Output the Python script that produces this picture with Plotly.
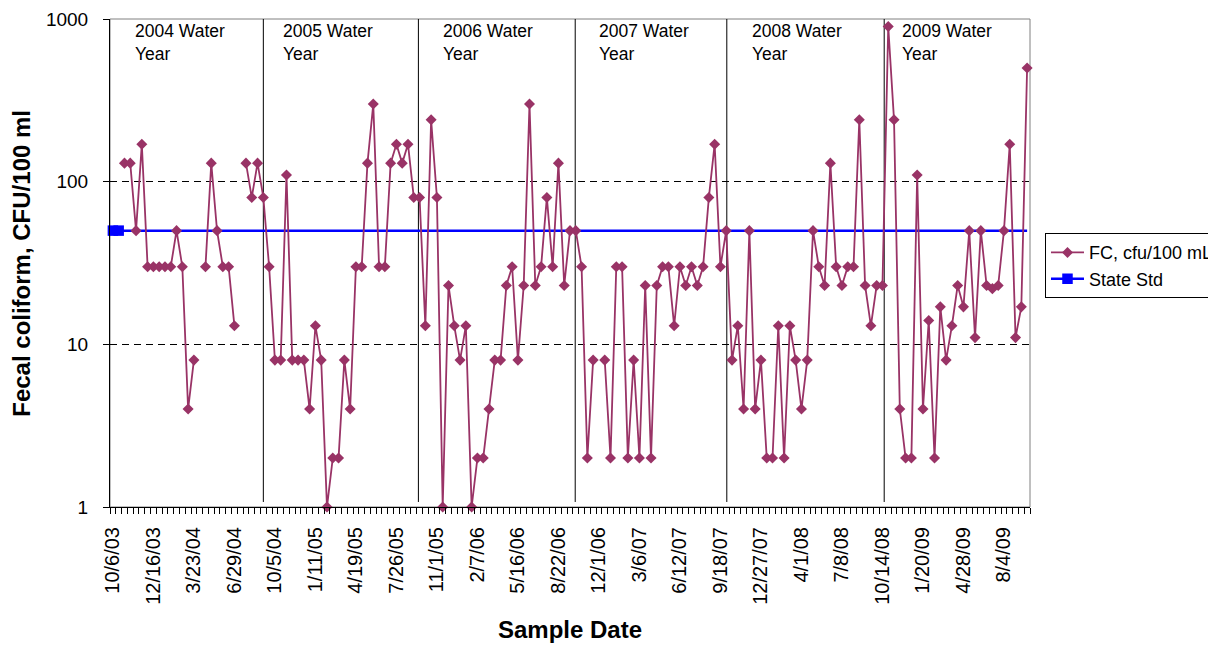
import plotly.graph_objects as go

# ---------------- data ----------------
fc_values = [
    None, None, 130, 130, 50, 170, 30, 30, 30, 30,
    30, 50, 30, 4, 8, None, 30, 130, 50, 30,
    30, 13, None, 130, 80, 130, 80, 30, 8, 8,
    110, 8, 8, 8, 4, 13, 8, 1, 2, 2,
    8, 4, 30, 30, 130, 300, 30, 30, 130, 170,
    130, 170, 80, 80, 13, 240, 80, 1, 23, 13,
    8, 13, 1, 2, 2, 4, 8, 8, 23, 30,
    8, 23, 300, 23, 30, 80, 30, 130, 23, 50,
    50, 30, 2, 8, None, 8, 2, 30, 30, 2,
    8, 2, 23, 2, 23, 30, 30, 13, 30, 23,
    30, 23, 30, 80, 170, 30, 50, 8, 13, 4,
    50, 4, 8, 2, 2, 13, 2, 13, 8, 4,
    8, 50, 30, 23, 130, 30, 23, 30, 30, 240,
    23, 13, 23, 23, 900, 240, 4, 2, 2, 110,
    4, 14, 2, 17, 8, 13, 23, 17, 50, 11,
    50, 23, 22, 23, 50, 170, 11, 17, 500,
]

tick_labels = [
    "10/6/03", "12/16/03", "3/23/04", "6/29/04", "10/5/04", "1/11/05",
    "4/19/05", "7/26/05", "11/1/05", "2/7/06", "5/16/06", "8/22/06",
    "12/1/06", "3/6/07", "6/12/07", "9/18/07", "12/27/07", "4/1/08",
    "7/8/08", "10/14/08", "1/20/09", "4/28/09", "8/4/09",
]
label_step = 7

state_std = 50
state_std_marked = 2  # number of leading points showing a marker

water_years = ["2004", "2005", "2006", "2007", "2008", "2009"]

# layout helpers (category-unit positions of drawn separators / labels)
wy_bounds = [26.0, 52.8, 79.9, 106.1, 133.3]
wy_text_x = [3.45, 29.0, 56.75, 83.75, 110.15, 136.05]

FONT = "Liberation Sans, Arial, sans-serif"
FC_COLOR = "#993366"
STD_COLOR = "#0000FF"

n = len(fc_values)
cats = list(range(n))

fig = go.Figure()

# State standard line (full width)
fig.add_trace(go.Scatter(
    x=cats, y=[state_std] * n, mode="lines",
    line=dict(color=STD_COLOR, width=2.5),
    showlegend=False, hoverinfo="skip",
))
# State standard markers + legend entry
fig.add_trace(go.Scatter(
    x=cats[:state_std_marked], y=[state_std] * state_std_marked,
    mode="lines+markers", name="State Std", legendrank=2,
    line=dict(color=STD_COLOR, width=2.5),
    marker=dict(symbol="square", size=10.5, color=STD_COLOR),
    cliponaxis=False,
))
# Fecal coliform series
fig.add_trace(go.Scatter(
    x=cats, y=fc_values, mode="lines+markers", name="FC, cfu/100 mL",
    legendrank=1, connectgaps=False,
    line=dict(color=FC_COLOR, width=1.8),
    marker=dict(symbol="diamond", size=8.5, color=FC_COLOR),
    cliponaxis=False,
))

shapes = [
    dict(type="rect", xref="paper", yref="paper", x0=0, x1=1, y0=0, y1=1,
         line=dict(color="#808080", width=1), layer="between"),
]
for b in wy_bounds:
    shapes.append(dict(type="line", xref="x", yref="paper", x0=b, x1=b,
                       y0=0.0103, y1=1, line=dict(color="black", width=1),
                       layer="between"))

annotations = []
for wy, tx in zip(water_years, wy_text_x):
    annotations.append(dict(
        x=tx, y=1, xref="x", yref="paper", xanchor="left", yanchor="top",
        text=f"{wy} Water<br>Year", showarrow=False, align="left",
        font=dict(family=FONT, size=17.5, color="black"),
    ))
annotations.append(dict(
    x=0.5, y=-0.2508, xref="paper", yref="paper", xanchor="center",
    yanchor="middle", text="<b>Sample Date</b>", showarrow=False,
    font=dict(family=FONT, size=24, color="black"),
))
annotations.append(dict(
    x=-0.097, y=0.5, xref="paper", yref="paper", xanchor="center",
    yanchor="middle", text="<b>Fecal coliform, CFU/100 ml</b>",
    textangle=-90, showarrow=False,
    font=dict(family=FONT, size=24, color="black"),
))

# page body has an 8px margin, so the figure is sized to fit the window
fig.update_layout(
    width=1208, height=637,
    margin=dict(l=102, r=186, t=11, b=138, autoexpand=False),
    plot_bgcolor="white", paper_bgcolor="white",
    font=dict(family=FONT, color="black"),
    showlegend=True,
    legend=dict(x=1.0163, y=0.561, xanchor="left", yanchor="top",
                bordercolor="black", borderwidth=1, bgcolor="white",
                itemwidth=33,
                font=dict(family=FONT, size=18, color="black")),
    shapes=shapes, annotations=annotations,
)

fig.update_xaxes(
    range=[-0.5, n - 0.5],
    tickmode="array",
    tickvals=[i * label_step for i in range(len(tick_labels))],
    ticktext=tick_labels, tickangle=-90, ticks="",
    showline=True, linecolor="black", linewidth=1,
    showgrid=False, zeroline=False,
    tickfont=dict(family=FONT, size=20, color="black"),
    ticklabelstandoff=11,
    minor=dict(ticks="outside", ticklen=6, tickcolor="black",
               tickmode="linear", tick0=-0.5, dtick=1, showgrid=False),
)
fig.update_yaxes(
    type="log", range=[0, 3],
    tickmode="array", tickvals=[1, 10, 100, 1000],
    ticktext=["1", "10", "100", "1000"],
    ticks="outside", ticklen=6, tickcolor="black",
    showline=True, linecolor="black", linewidth=1,
    showgrid=True, gridcolor="black", griddash="7px,5px", gridwidth=1,
    zeroline=False,
    tickfont=dict(family=FONT, size=19, color="black"),
    ticklabelstandoff=11,
)

fig.write_html("out.html")
